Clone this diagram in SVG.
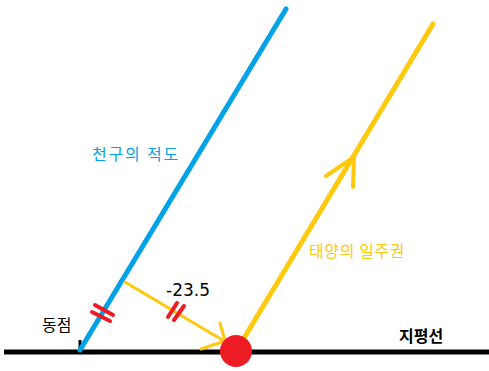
<svg xmlns="http://www.w3.org/2000/svg" width="489" height="371" viewBox="0 0 489 371">
<style>
.blue{stroke:#00A2E8;stroke-width:5;stroke-linecap:round;fill:none}
.gold{stroke:#FFC90E;stroke-linecap:round;stroke-linejoin:round;fill:none}
.red{stroke:#ED1C24;stroke-width:4;stroke-linecap:round}
.t{font-family:"Noto Sans CJK KR","DejaVu Sans",sans-serif;font-size:16px}
</style>
<rect width="489" height="371" fill="#fff"/>
<g id="connectors">
<line id="horizon" x1="4" y1="352" x2="489" y2="352" stroke="#000" stroke-width="5"/>
<line x1="80" y1="350" x2="80" y2="340" stroke="#000" stroke-width="3"/>
<line class="blue" x1="80" y1="350" x2="286" y2="9"/>
<line class="gold" stroke-width="5" x1="433" y1="24" x2="244" y2="338"/>
<polyline class="gold" stroke-width="4" points="326,176 354,157 353,187"/>
<line class="gold" stroke-width="3" x1="125" y1="282" x2="224" y2="341"/>
<polyline class="gold" stroke-width="3" points="220,323 225,341 201,349"/>
<line class="red" x1="95" y1="305" x2="113" y2="315"/>
<line class="red" x1="92" y1="312" x2="110" y2="321"/>
<line class="red" x1="168" y1="317" x2="177" y2="303"/>
<line class="red" x1="174" y1="320" x2="184" y2="306"/>
</g>
<g id="sun"><circle cx="236" cy="351" r="16" fill="#ED1C24"/></g>
<g id="labels">
<text class="t" x="92" y="160" fill="#00A2E8" letter-spacing="1.8">천구의 적도</text>
<text class="t" x="309" y="257" fill="#FFC90E" letter-spacing="0.6">태양의 일주권</text>
<text x="166" y="296" font-family="DejaVu Sans,sans-serif" font-size="17" fill="#000">-23.5</text>
<text class="t" x="42" y="331" fill="#000">동점</text>
<text class="t" x="399" y="342" fill="#000" font-weight="bold">지평선</text>
</g>
</svg>
